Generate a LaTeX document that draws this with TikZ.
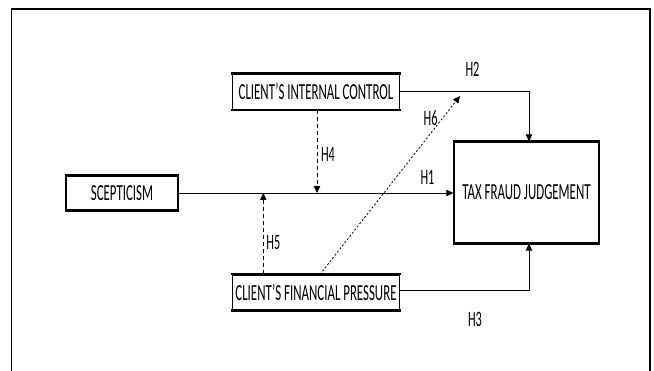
\documentclass[tikz,border=0pt]{standalone}
\usepackage{fontspec}
\setmainfont{Carlito}[FakeStretch=0.56]
\usetikzlibrary{arrows.meta}
\begin{document}
\begin{tikzpicture}[x=1pt,y=-1pt,
  box/.style={draw, line width=1.2pt, inner sep=0pt, font=\fontsize{23}{26}\selectfont},
  lab/.style={inner sep=0pt, font=\fontsize{22}{25}\selectfont},
  conn/.style={line width=0.8pt, -{Triangle[length=7pt,width=6.5pt]}},
  dash1/.style={dash pattern=on 4pt off 3pt},
  dot1/.style={dash pattern=on 2pt off 2pt},
  frame/.style={line width=1.2pt},
  thick edge/.style={line width=2.2pt}
]
\useasboundingbox (0,0) rectangle (654,371);
% outer frame (open at bottom)
\coordinate (fbl) at (11.7,371);
\coordinate (ftl) at (11.7,8.7);
\coordinate (ftr) at (650,8.7);
\coordinate (fbr) at (650,371);
\draw[frame] (fbl) -- (ftl) -- (ftr) -- (fbr);
\draw[thick edge] ([xshift=-0.6pt]ftl) -- ([xshift=0.6pt]ftr);

% boxes
\node[box, minimum width=167pt, minimum height=35pt] (ic) at (316,91.7) {CLIENT'S INTERNAL CONTROL};
\node[box, minimum width=112pt, minimum height=34pt] (sc) at (122,193) {SCEPTICISM};
\node[box, minimum width=145pt, minimum height=101pt] (tfj) at (526.5,192.5) {TAX FRAUD JUDGEMENT};
\node[box, minimum width=167pt, minimum height=35pt] (fp) at (316,292.5) {CLIENT'S FINANCIAL PRESSURE};
\foreach \n in {ic,sc,tfj,fp}{
  \draw[thick edge] ([xshift=-0.6pt]\n.north west) -- ([xshift=0.6pt]\n.north east);
  \draw[thick edge] ([xshift=-0.6pt]\n.south west) -- ([xshift=0.6pt]\n.south east);
}

% connectors
\draw[conn] (sc.east) -- (sc.east -| tfj.west);
\draw[conn] (ic.east) -| ([xshift=2.5pt]tfj.north);
\draw[conn] ([yshift=2pt]fp.east) -| ([xshift=2.5pt]tfj.south);
\coordinate (h4end) at (317,193);
\coordinate (h5end) at (263.3,193);
\coordinate (h6end) at (460,96);
\draw[conn, dash1] (ic.south -| h4end) -- (h4end);
\draw[conn, dash1] (fp.north -| h5end) -- (h5end);
\draw[conn, dot1] ([xshift=4pt]fp.north) -- (h6end);

% labels
\node[lab] (l1) at (427.5,177) {H1};
\node[lab] (l2) at (472.5,69) {H2};
\node[lab] (l3) at (475,319) {H3};
\node[lab] (l4) at (328,154) {H4};
\node[lab] (l5) at (273.3,243) {H5};
\node[lab] (l6) at (430.7,118) {H6};
\end{tikzpicture}
\end{document}
